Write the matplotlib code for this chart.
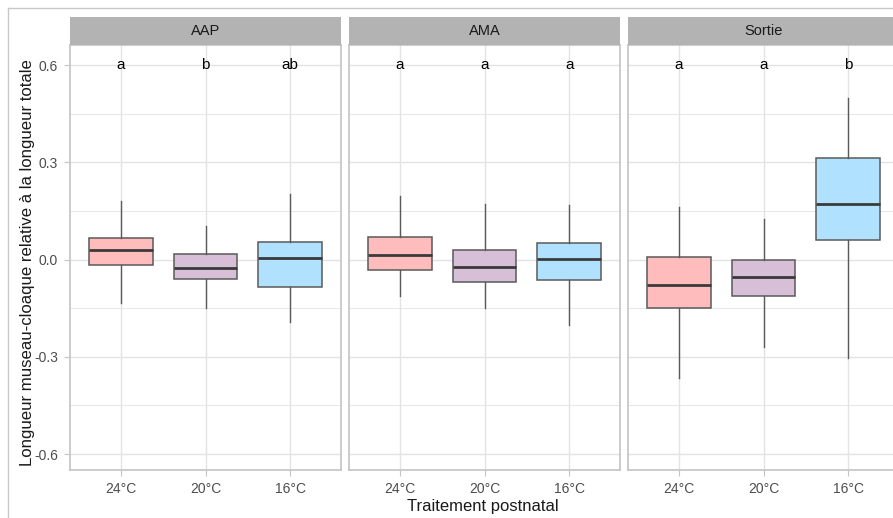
import matplotlib.pyplot as plt
from matplotlib.lines import Line2D
from matplotlib.ticker import MultipleLocator

plt.rcParams["font.family"] = ["Liberation Sans", "DejaVu Sans"]

# Data
facets = ["AAP", "AMA", "Sortie"]
treatments = ["24°C", "20°C", "16°C"]
fills = ["#FFBCBC", "#D8BFD8", "#B0E2FF"]

q1 = [[-0.018, -0.061, -0.084],
      [-0.031, -0.068, -0.064],
      [-0.150, -0.111, 0.062]]
medians = [[0.031, -0.026, 0.004],
           [0.013, -0.023, 0.001],
           [-0.078, -0.055, 0.173]]
q3 = [[0.068, 0.018, 0.055],
      [0.071, 0.031, 0.051],
      [0.009, -0.002, 0.312]]
whis_lo = [[-0.135, -0.150, -0.194],
           [-0.112, -0.148, -0.203],
           [-0.366, -0.270, -0.304]]
whis_hi = [[0.182, 0.105, 0.201],
           [0.197, 0.172, 0.169],
           [0.161, 0.124, 0.499]]
letters = [["a", "b", "ab"],
           ["a", "a", "a"],
           ["a", "a", "b"]]
letter_y = 0.6

W, H = 893, 518
fig = plt.figure(figsize=(W / 100, H / 100), dpi=100)


def px(x0, y0, x1, y1):
    return [x0 / W, 1 - y1 / H, (x1 - x0) / W, (y1 - y0) / H]


panel_x = [70, 349, 628]
panel_w = 271
grid_col = "#E3E3E3"
border_col = "#C4C4C4"
tick_col = "#4D4D4D"

for i, facet in enumerate(facets):
    x0 = panel_x[i]
    ax = fig.add_axes(px(x0, 45, x0 + panel_w, 470))
    stats = []
    for j in range(len(treatments)):
        stats.append(dict(med=medians[i][j], q1=q1[i][j], q3=q3[i][j],
                          whislo=whis_lo[i][j], whishi=whis_hi[i][j],
                          fliers=[]))
    bp = ax.bxp(stats, positions=[1, 2, 3], widths=0.75, patch_artist=True,
                showcaps=False,
                boxprops=dict(edgecolor="#5A5A5A", linewidth=1.1),
                whiskerprops=dict(color="#5A5A5A", linewidth=1.0),
                medianprops=dict(color="#3A3A3A", linewidth=2.0))
    for patch, c in zip(bp["boxes"], fills):
        patch.set_facecolor(c)

    for j, lab in enumerate(letters[i]):
        ax.text(j + 1, letter_y, lab, ha="center", va="center",
                fontsize=11, color="black")

    ax.set_xlim(0.4, 3.6)
    ax.set_ylim(-0.649, 0.662)
    ax.set_xticks([1, 2, 3])
    ax.set_xticklabels(treatments)
    ax.yaxis.set_major_locator(MultipleLocator(0.3))
    ax.yaxis.set_minor_locator(MultipleLocator(0.15))
    ax.set_axisbelow(True)
    ax.grid(which="major", color=grid_col, linewidth=1.0)
    ax.grid(which="minor", axis="y", color=grid_col, linewidth=0.6)
    for s in ax.spines.values():
        s.set_color(border_col)
        s.set_linewidth(1.2)
    ax.tick_params(axis="both", which="major", colors=border_col, length=4,
                   labelcolor=tick_col, labelsize=10, pad=4.5)
    ax.tick_params(axis="y", which="minor", length=0)
    if i == 0:
        ax.set_yticklabels([f"{v:.1f}" for v in ax.get_yticks()])
    else:
        ax.tick_params(axis="y", which="major", left=False, labelleft=False)

    sx = fig.add_axes(px(x0, 17, x0 + panel_w, 45))
    sx.set_facecolor("#B3B3B3")
    sx.set_xticks([])
    sx.set_yticks([])
    for s in sx.spines.values():
        s.set_visible(False)
    sx.text(0.5, 0.5, facet, ha="center", va="center", fontsize=10.5,
            color="#1A1A1A", transform=sx.transAxes)

fig.text(28 / W, 1 - 263 / H,
         "Longueur museau-cloaque relative à la longueur totale",
         rotation=90, ha="center", va="center", fontsize=12.1, color="#1A1A1A")
fig.text(483 / W, 1 - 507 / H, "Traitement postnatal", ha="center",
         va="center", fontsize=12, color="#1A1A1A")

# screenshot frame
fig.add_artist(Line2D([8 / W, 8 / W], [0, 1 - 8 / H], color="#C8C8C8", lw=1))
fig.add_artist(Line2D([8 / W, 1], [1 - 8 / H, 1 - 8 / H], color="#C8C8C8", lw=1))

fig.savefig("out.png", dpi=100)
